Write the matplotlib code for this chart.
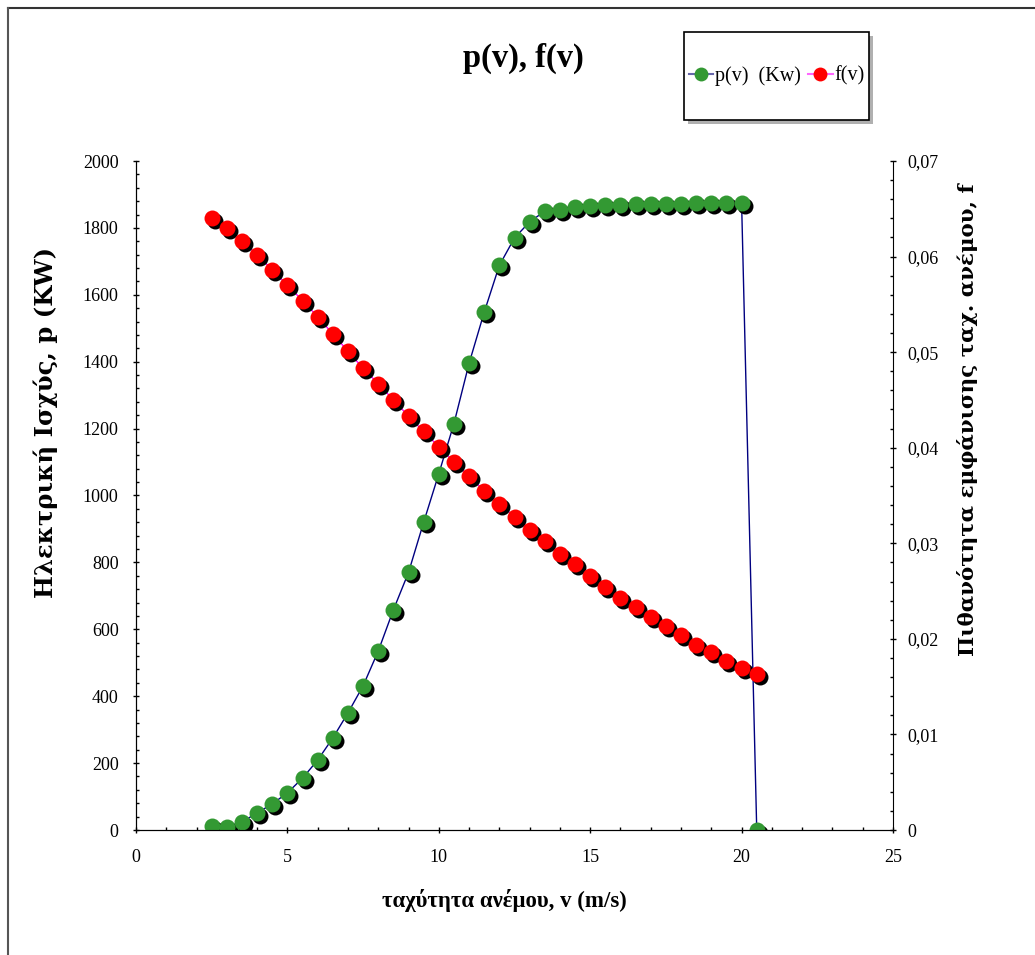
import matplotlib
matplotlib.use('Agg')
import matplotlib.pyplot as plt
from matplotlib.lines import Line2D
from matplotlib.patches import Rectangle
from matplotlib.ticker import MultipleLocator, FuncFormatter
from matplotlib.transforms import offset_copy

plt.rcParams['font.family'] = ['Liberation Serif', 'DejaVu Serif']

# wind speed (m/s)
v = [2.5, 3, 3.5, 4, 4.5, 5, 5.5, 6, 6.5, 7, 7.5, 8, 8.5, 9, 9.5, 10,
     10.5, 11, 11.5, 12, 12.5, 13, 13.5, 14, 14.5, 15, 15.5, 16, 16.5,
     17, 17.5, 18, 18.5, 19, 19.5, 20, 20.5]

# electrical power p(v) in KW
p = [12, 9, 24, 51, 78, 111, 155, 209, 275, 350, 431, 535, 658, 770, 920,
     1065, 1215, 1395, 1548, 1688, 1770, 1818, 1850, 1855, 1862, 1865,
     1868, 1868, 1870, 1870, 1871, 1872, 1873, 1873, 1874, 1875, 0]

# probability of wind speed f(v)
f = [0.0640, 0.0630, 0.0616, 0.0602, 0.0586, 0.0570, 0.0554, 0.0537,
     0.0519, 0.0501, 0.0483, 0.0467, 0.0450, 0.0433, 0.0417, 0.0401,
     0.0385, 0.0370, 0.0355, 0.0341, 0.0328, 0.0314, 0.0302, 0.0289,
     0.0278, 0.0266, 0.0254, 0.0243, 0.0233, 0.0223, 0.0213, 0.0204,
     0.0194, 0.0186, 0.0177, 0.0170, 0.0163]

green = '#339933'
red = '#ff0000'
navy = '#000080'
magenta = '#ff00ff'

fig = plt.figure(figsize=(10.35, 9.55), dpi=100)
ax = fig.add_axes([136/1035, 1-830/955, 757/1035, 669/955])
ax2 = ax.twinx()

ms = 11.5
# p(v) series
ax.plot(v, p, color=navy, lw=1, zorder=2)
sh = offset_copy(ax.transData, fig=fig, x=3, y=-3, units='dots')
ax.plot(v, p, 'o', color='black', ms=ms, mec='none', transform=sh, zorder=3)
ax.plot(v, p, 'o', color=green, ms=ms, mec='none', zorder=4)

# f(v) series
ax2.plot(v, f, color=magenta, lw=1, zorder=2)
sh2 = offset_copy(ax2.transData, fig=fig, x=3, y=-3, units='dots')
ax2.plot(v, f, 'o', color='black', ms=ms, mec='none', transform=sh2, zorder=3)
ax2.plot(v, f, 'o', color=red, ms=ms, mec='none', zorder=4)

ax.set_xlim(0, 25)
ax.set_ylim(0, 2000)
ax2.set_ylim(0, 0.07)

ax.xaxis.set_major_locator(MultipleLocator(5))
ax.xaxis.set_minor_locator(MultipleLocator(1))
ax.yaxis.set_major_locator(MultipleLocator(200))
ax.yaxis.set_minor_locator(MultipleLocator(40))
ax2.yaxis.set_major_locator(MultipleLocator(0.01))
ax2.yaxis.set_minor_locator(MultipleLocator(0.002))


def comma(val, pos):
    if abs(val) < 1e-9:
        return '0'
    return f'{val:.2f}'.replace('.', ',')


ax2.yaxis.set_major_formatter(FuncFormatter(comma))

for a in (ax, ax2):
    a.spines['top'].set_visible(False)
    a.tick_params(which='major', direction='inout', length=5, width=1,
                  labelsize=13)
    a.tick_params(which='minor', direction='in', length=2.5, width=1)
ax.spines['right'].set_visible(False)
ax.tick_params(axis='y', which='major', pad=10)
ax.tick_params(axis='x', which='major', pad=11)
ax2.tick_params(axis='y', which='major', pad=8)

# titles and labels
fig.text(523/1035, 1-58/955, 'p(v), f(v)', ha='center', va='center',
         fontsize=23.5, fontweight='bold')
fig.text(504/1035, 1-900/955, 'ταχύτητα ανέμου, v (m/s)', ha='center',
         va='center', fontsize=16.4, fontweight='bold')
# the vertical titles are drawn wider along their baseline in the original
fig.text(46/1035, 1-422/955, 'Ηλεκτρική Ισχύς, p (KW)', ha='center',
         va='center', rotation=90, fontsize=17.5, fontweight='bold',
         family='DejaVu Serif')
fig.text(968/1035, 1-420/955, 'Πιθανότητα εμφάνισης ταχ. ανέμου, f',
         ha='center', va='center', rotation=90, fontsize=15.4,
         fontweight='bold', family='DejaVu Serif')

# legend box with shadow
fig.patches.append(Rectangle((688/1035, 1-124/955), 185/1035, 88/955,
                             transform=fig.transFigure, facecolor='#b0b0b0',
                             edgecolor='none', zorder=0))
fig.patches.append(Rectangle((684/1035, 1-120/955), 185/1035, 88/955,
                             transform=fig.transFigure, facecolor='white',
                             edgecolor='black', lw=1.2, zorder=1))
handles = [Line2D([], [], color='#6666aa', lw=1.5, marker='o', ms=10,
                  mfc=green, mec='none'),
           Line2D([], [], color='#ff66ff', lw=1.5, marker='o', ms=10,
                  mfc=red, mec='none')]
fig.legend(handles, ['p(v)  (Kw)', 'f(v)'], loc='center',
           bbox_to_anchor=(777/1035, 1-76/955), ncol=2, frameon=False,
           fontsize=14.5, handlelength=1.2, handletextpad=0.1,
           columnspacing=0.35)

# outer chart border
fig.add_artist(Line2D([8/1035, 1], [1-8/955, 1-8/955], color='#333333',
                      lw=1.5, transform=fig.transFigure))
fig.add_artist(Line2D([8/1035, 8/1035], [0, 1-8/955], color='#555555',
                      lw=1.5, transform=fig.transFigure))

fig.savefig('out.png', dpi=100)
